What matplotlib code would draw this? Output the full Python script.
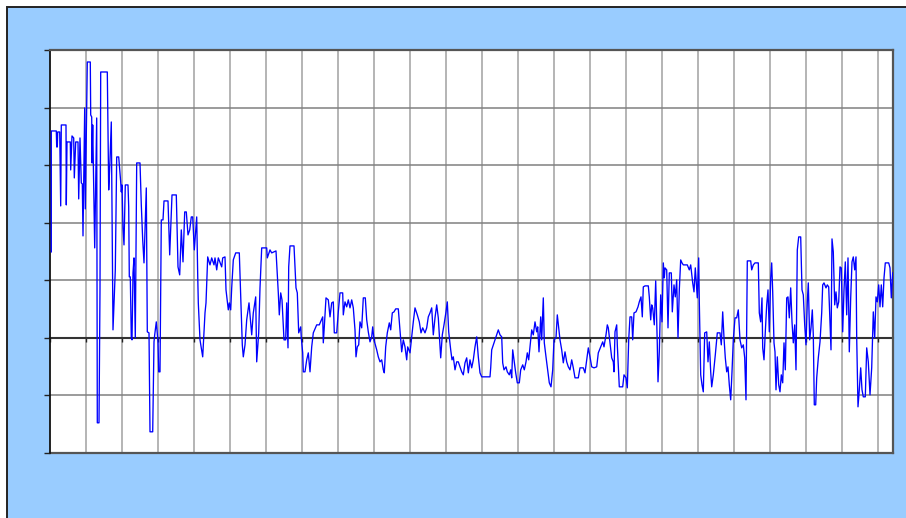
import numpy as np
import matplotlib
matplotlib.use("Agg")
import matplotlib.pyplot as plt
from matplotlib.patches import Rectangle

# Series: sample position and level (arbitrary units, zero line = 0)
sample = [
    1.3, 1.3, 6.3, 6.7, 7.3, 7.7, 9.7, 10.7, 11.3, 16.0,
    16.3, 17.0, 20.3, 20.7, 22.0, 23.7, 24.3, 25.7, 28.0, 28.7,
    30.0, 31.3, 32.3, 33.0, 34.7, 35.3, 37.3, 40.3, 40.7, 41.7,
    42.0, 42.7, 44.7, 46.7, 47.3, 49.0, 50.0, 50.7, 57.3, 58.7,
    59.7, 61.3, 63.0, 65.3, 66.7, 68.7, 70.7, 71.3, 72.0, 73.0,
    74.0, 75.3, 78.0, 78.7, 79.3, 80.3, 81.3, 82.0, 83.0, 84.0,
    85.3, 86.7, 90.0, 91.3, 92.7, 94.0, 96.3, 97.3, 99.0, 100.0,
    102.7, 104.0, 104.7, 106.3, 108.0, 108.7, 110.0, 111.3, 113.0, 114.0,
    118.0, 119.7, 122.0, 126.3, 128.0, 129.7, 131.3, 133.0, 134.7, 136.3,
    138.0, 139.7, 141.3, 142.7, 144.3, 146.7, 147.7, 148.3, 150.0, 152.7,
    155.0, 156.0, 157.7, 160.0, 161.7, 164.0, 165.0, 166.7, 168.3, 171.7,
    172.7, 175.0, 176.0, 178.3, 179.3, 180.7, 181.7, 183.3, 185.7, 189.3,
    190.7, 192.3, 193.3, 195.0, 196.7, 199.0, 201.7, 203.3, 205.7, 206.7,
    208.7, 210.0, 211.7, 216.7, 217.3, 220.0, 221.7, 226.0, 228.3, 229.3,
    230.7, 232.0, 234.0, 235.7, 236.7, 238.0, 238.7, 240.0, 244.0, 246.0,
    247.3, 248.7, 250.7, 251.3, 252.7, 253.3, 255.0, 256.7, 258.3, 260.0,
    261.7, 263.3, 266.7, 269.3, 272.7, 273.3, 274.3, 276.0, 278.3, 280.0,
    281.7, 283.3, 284.3, 286.7, 288.3, 290.0, 292.7, 293.3, 295.0, 296.7,
    298.3, 300.0, 301.7, 303.3, 305.0, 306.0, 307.3, 308.7, 310.0, 311.7,
    313.3, 315.3, 316.7, 318.3, 320.0, 321.7, 322.7, 324.0, 325.3, 326.7,
    328.3, 330.0, 331.7, 333.3, 334.3, 335.7, 337.3, 339.3, 340.7, 342.3,
    344.0, 345.7, 348.3, 350.0, 351.7, 353.3, 355.0, 356.7, 357.7, 360.0,
    361.7, 363.3, 365.0, 367.3, 369.3, 371.0, 372.7, 375.0, 376.7, 378.3,
    380.0, 381.7, 383.3, 385.0, 386.7, 388.3, 390.7, 392.3, 394.0, 396.0,
    397.3, 398.7, 400.7, 402.0, 403.3, 405.0, 406.7, 408.3, 410.0, 411.7,
    413.3, 415.0, 416.7, 418.3, 420.0, 421.7, 423.3, 425.0, 426.7, 428.3,
    430.0, 431.7, 440.0, 440.7, 441.7, 443.3, 445.0, 446.7, 448.3, 450.0,
    451.7, 452.7, 454.0, 456.0, 457.3, 459.3, 460.7, 461.7, 462.7, 464.0,
    465.7, 467.3, 469.3, 470.7, 472.7, 474.3, 476.0, 477.3, 478.7, 480.0,
    481.7, 483.3, 485.0, 486.7, 487.7, 489.0, 490.7, 491.7, 493.3, 494.3,
    496.0, 497.7, 499.3, 501.0, 502.7, 504.0, 506.0, 507.3, 508.7, 510.0,
    511.7, 513.3, 515.0, 516.7, 518.3, 520.0, 521.7, 523.3, 525.0, 528.3,
    530.0, 533.3, 535.0, 536.7, 538.3, 540.0, 541.7, 544.0, 546.7, 548.3,
    550.7, 552.7, 554.0, 556.0, 557.3, 558.3, 560.0, 561.7, 563.3, 564.0,
    565.0, 566.7, 567.3, 569.3, 572.7, 574.0, 576.0, 577.3, 578.7, 580.0,
    581.7, 582.7, 584.0, 586.0, 588.0, 589.3, 591.0, 592.3, 593.3, 595.0,
    598.3, 599.3, 600.7, 601.7, 602.7, 604.3, 605.7, 607.3, 608.0, 609.3,
    610.7, 612.0, 613.3, 614.3, 615.0, 616.7, 618.0, 619.3, 621.3, 622.3,
    624.0, 625.3, 626.7, 628.0, 629.3, 630.7, 632.0, 633.3, 637.3, 639.3,
    640.7, 642.7, 644.0, 645.3, 647.3, 648.7, 649.3, 650.7, 652.0, 653.3,
    654.7, 656.7, 658.0, 659.3, 660.7, 661.7, 663.3, 665.3, 667.3, 670.0,
    671.3, 672.7, 674.0, 675.3, 676.7, 678.0, 679.3, 680.7, 682.0, 683.3,
    685.0, 686.7, 688.3, 690.0, 691.7, 693.3, 694.7, 696.0, 697.3, 700.7,
    701.7, 703.3, 705.0, 708.3, 709.3, 710.7, 712.0, 712.7, 714.0, 715.3,
    716.7, 718.0, 719.3, 720.7, 721.7, 722.7, 724.0, 725.0, 726.0, 727.3,
    728.7, 730.0, 731.3, 732.7, 734.0, 735.3, 736.7, 738.0, 739.3, 740.7,
    742.0, 743.3, 744.7, 746.0, 747.3, 748.7, 750.7, 752.0, 753.3, 754.7,
    756.0, 757.3, 758.3, 759.7, 761.0, 762.3, 763.3, 764.3, 765.7, 766.7,
    768.3, 770.0, 771.7, 772.7, 774.0, 776.0, 777.3, 778.7, 780.0, 781.0,
    782.0, 783.3, 784.7, 786.0, 787.3, 788.7, 790.0, 791.3, 792.7, 794.0,
    795.3, 796.7, 798.0, 799.3, 800.7, 802.0, 803.3, 804.7, 806.0, 806.7,
    808.0, 809.3, 810.7, 812.0, 813.3, 815.3, 816.7, 818.3, 820.0, 821.7,
    823.3, 824.7, 826.0, 827.3, 828.7, 830.0, 831.3, 832.7, 834.0, 835.3,
    838.7, 840.0, 841.3, 842.7,
]

level = [
    86, 207, 207, 191, 191, 206, 206, 132, 213, 213,
    133, 196, 196, 168, 202, 200, 160, 196, 196, 139,
    200, 155, 154, 102, 230, 129, 276, 276, 223, 221,
    175, 213, 90, 220, -85, -85, 49, 266, 266, 148,
    170, 216, 8, 68, 181, 181, 156, 146, 153, 110,
    93, 153, 153, 131, 61, 61, 0, -2, 65, 80,
    0, 175, 175, 133, 98, 75, 150, 6, 5, -94,
    -94, -4, 3, 16, -4, -34, -34, 118, 118, 137,
    137, 83, 143, 143, 71, 63, 108, 76, 126, 126,
    103, 108, 121, 121, 88, 121, 63, 35, -2, -19,
    25, 35, 81, 73, 80, 73, 80, 68, 80, 71,
    80, 81, 48, 28, 35, 28, 50, 78, 85, 85,
    41, -7, -19, -7, 18, 35, 3, 25, 41, -24,
    5, 50, 90, 90, 80, 88, 85, 87, 45, 23,
    45, 38, -2, -2, 35, -10, 71, 92, 92, 50,
    45, 5, 11, 0, -15, -34, -34, -22, -15, -34,
    -9, 5, 13, 13, 21, -5, 11, 40, 38, 21,
    35, 36, 5, 5, 26, 45, 45, 23, 36, 31,
    38, 30, 38, 30, 8, -19, -9, -7, 16, 10,
    40, 40, 18, 6, -4, 1, 11, -2, -7, -12,
    -19, -24, -22, -32, -35, -9, 5, 15, 8, 25,
    26, 29, 29, 8, -14, -2, -9, -22, -9, -15,
    1, 16, 30, 23, 16, 5, 10, 5, 10, 21,
    25, 30, 3, 20, 33, 20, -20, 3, 13, 26,
    36, 6, -12, -22, -19, -32, -24, -24, -29, -34,
    -37, -25, -20, -35, -22, -30, -22, -9, 1, -19,
    -35, -39, -39, -30, -12, -7, -2, 3, 8, 3,
    1, -25, -32, -29, -34, -37, -32, -40, -12, -22,
    -35, -45, -45, -32, -27, -32, -24, -15, -22, -9,
    8, 3, 16, 6, 11, -14, 21, -2, 40, -5,
    -19, -32, -45, -49, -32, -2, 0, 23, 10, -2,
    -12, -25, -14, -24, -29, -32, -22, -30, -40, -40,
    -30, -30, -35, -22, -10, -19, -29, -30, -29, -15,
    -9, -4, -9, 3, 13, 10, -5, -20, -24, -34,
    6, 13, -7, -49, -49, -37, -40, -50, -2, 21,
    21, -2, 25, 26, 31, 36, 41, 21, 51, 52,
    52, 41, 18, 33, 30, 13, 57, -7, -44, -14,
    43, 16, 75, 60, 70, 68, 10, 65, 65, 26,
    53, 41, 58, 0, 48, 78, 75, 73, 73, 68,
    73, 55, 46, 70, 40, 80, 36, -37, -47, -54,
    5, 6, -24, -4, -34, -49, -37, -17, 5, 5,
    -7, 26, 0, -20, -34, -29, -47, -62, -34, -2,
    20, 20, 28, -2, -10, -7, -20, -62, 77, 77,
    68, 73, 75, 75, 25, 16, 40, -10, -22, 6,
    33, 48, 6, 60, 75, 46, -5, -14, -52, -19,
    -47, -54, -37, -45, -5, -32, 40, 41, 20, 50,
    16, -5, 13, -32, 88, 101, 101, 48, 43, 13,
    -7, 36, 55, -2, 10, 28, 3, -67, -67, -40,
    -20, -4, 25, 53, 55, 50, 53, 51, 16, -12,
    99, 86, 33, 46, 30, 36, 71, 70, 6, 48,
    76, 23, 80, -14, 40, 76, 81, 68, 81, 0,
    -69, -52, -30, -52, -59, -59, -10, -24, -57, -30,
    26, 0, 41, 36, 53, 31, 53, 31, 60, 75,
    75, 70, 40, 65,
]

# Axis layout
x_max = 843
x_step = 36
y_step = 57.6
y_min, y_max = -2 * y_step, 5 * y_step

fig = plt.figure(figsize=(9.06, 5.18), dpi=100)
fig.patch.set_facecolor("white")

# Light-blue chart panel with a dark edge on top and left
panel = Rectangle((7 / 906, -0.02), 1.05, (511 / 518) + 0.02,
                  transform=fig.transFigure, facecolor="#99CCFF",
                  edgecolor="#222222", linewidth=1.4, zorder=-5)
fig.patches.append(panel)

ax = fig.add_axes([50 / 906, 1 - 453 / 518, 843 / 906, 403 / 518])
ax.set_facecolor("white")
ax.set_xlim(0, x_max)
ax.set_ylim(y_min, y_max)

ax.set_xticks(np.arange(0, x_max, x_step))
ax.set_yticks(np.arange(y_min, y_max + 1, y_step))
ax.set_xticklabels([])
ax.set_yticklabels([])

# Gridlines
for xv in np.arange(x_step, x_max, x_step):
    ax.axvline(xv, color="#a0a0a0", linewidth=1.1, zorder=1)
for yv in np.arange(y_min, y_max + 1, y_step):
    ax.axhline(yv, color="#808080", linewidth=1.1, zorder=1)

# Zero line carries the x ticks
ax.spines["bottom"].set_position(("data", 0))
ax.spines["bottom"].set_color("#333333")
ax.spines["bottom"].set_linewidth(1.5)
ax.spines["bottom"].set_zorder(2)
ax.tick_params(axis="x", direction="out", length=3, width=1.0, color="#222222")
ax.tick_params(axis="y", direction="out", length=4, width=1.0, color="#222222")

ax.spines["left"].set_color("#111111")
ax.spines["left"].set_linewidth(1.3)
ax.spines["top"].set_color("#555555")
ax.spines["top"].set_linewidth(1.6)
ax.spines["right"].set_color("#555555")
ax.spines["right"].set_linewidth(1.6)

# Lower frame edge
ax.axhline(y_min, color="#555555", linewidth=1.6, clip_on=False, zorder=2)

ax.plot(sample, level, color="#0000FF", linewidth=0.95, zorder=3)

fig.savefig("out.png", dpi=100, facecolor=fig.get_facecolor())
